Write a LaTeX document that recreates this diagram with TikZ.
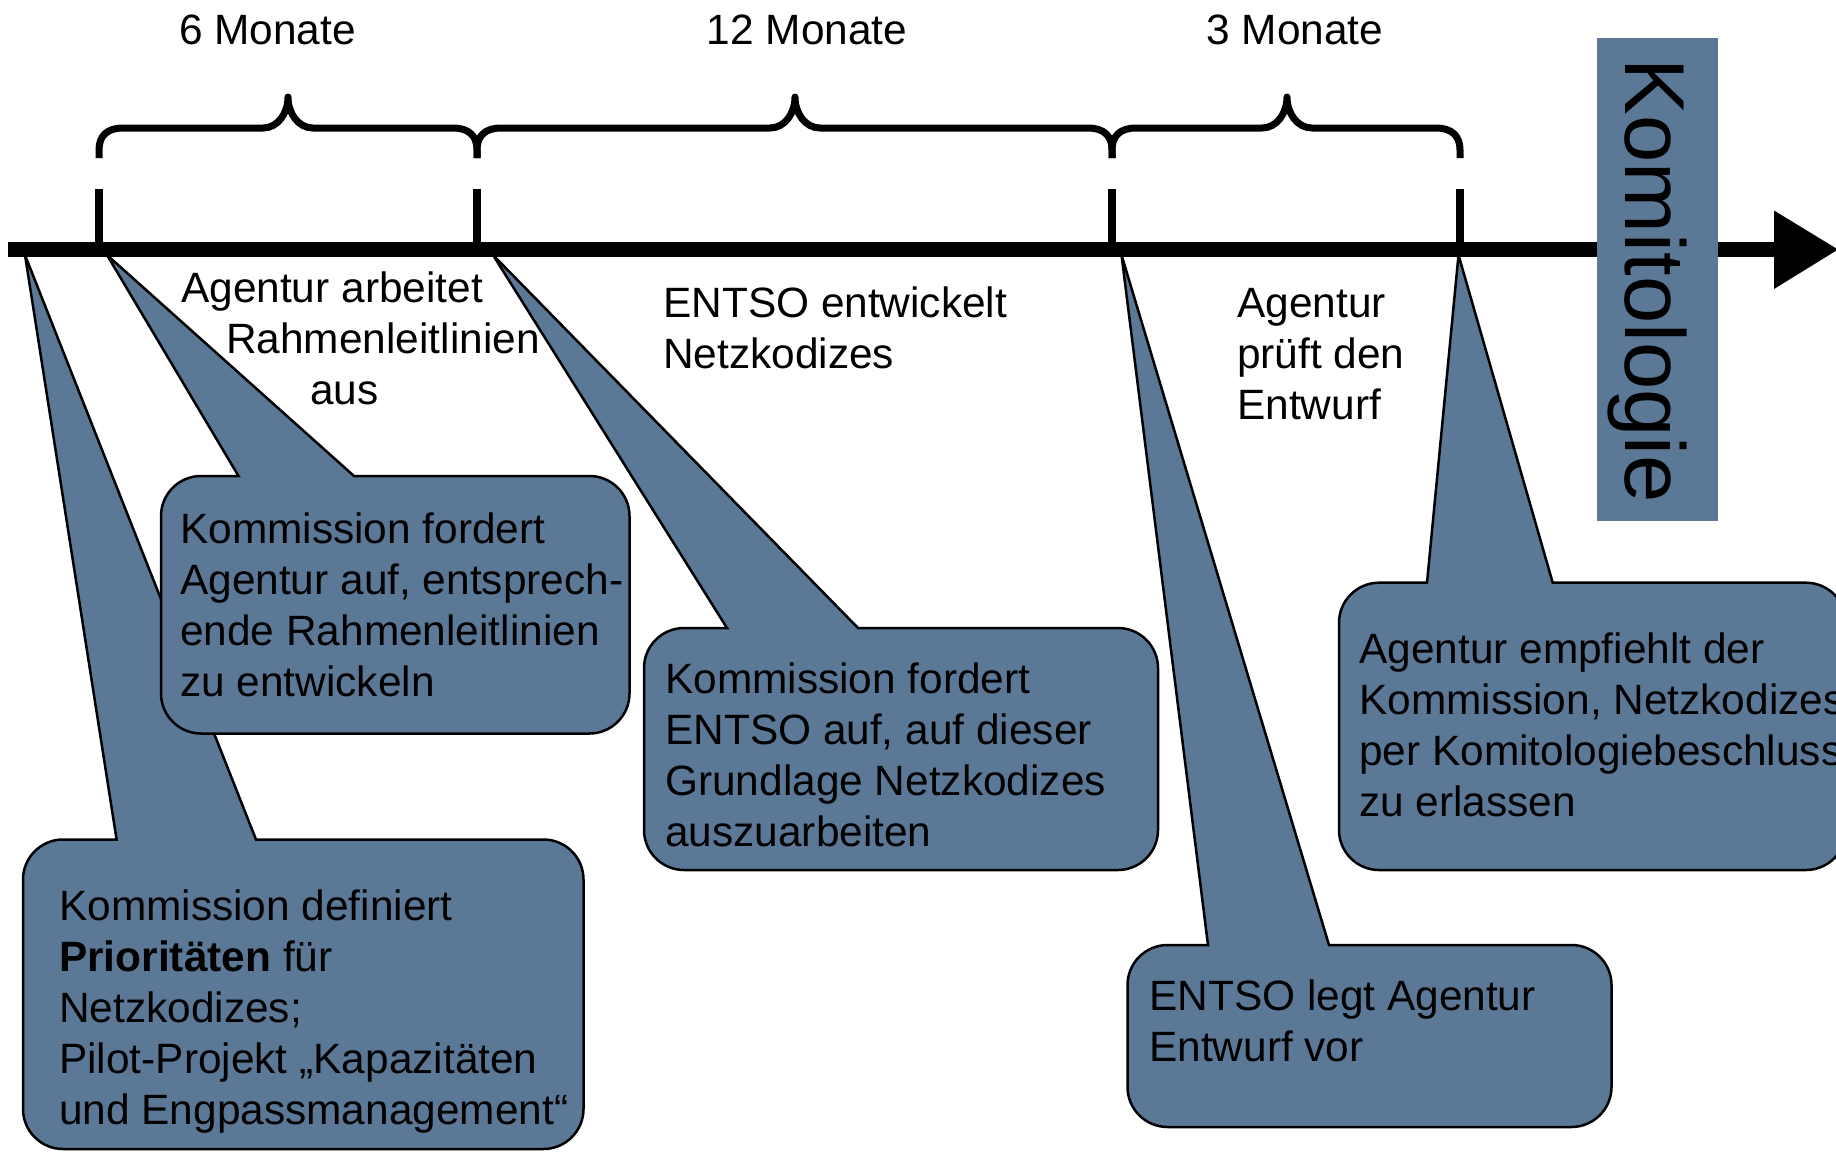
\documentclass[tikz,border=0pt]{standalone}
\usepackage{fontspec}
\setmainfont{Liberation Sans}
\definecolor{callcol}{RGB}{92,120,151}
\newcommand\txtlines[1]{\begin{tabular}[t]{@{}l@{}}#1\end{tabular}}
% #1 L, #2 T, #3 R, #4 B, #5 wedge base left, #6 wedge base right, #7 tip x, #8 tip y
\newcommand\callout[8]{%
  \filldraw[calloutshape] (#5,#2) -- (#7,#8) -- (#6,#2) -- ({#3-40},#2)
    .. controls ({#3-18},#2) and (#3,{#2+18}) .. (#3,{#2+40})
    -- (#3,{#4-40}) .. controls (#3,{#4-18}) and ({#3-18},#4) .. ({#3-40},#4)
    -- ({#1+40},#4) .. controls ({#1+18},#4) and (#1,{#4-18}) .. (#1,{#4-40})
    -- (#1,{#2+40}) .. controls (#1,{#2+18}) and ({#1+18},#2) .. ({#1+40},#2)
    -- cycle;}
% brace: #1 left x, #2 tip x, #3 right x
\newcommand\timebrace[3]{%
  \draw[bracestroke] (#1,158) -- (#1,150) .. controls (#1,136) and ({#1+8},128) .. ({#1+24},128)
    -- ({#2-25},128) .. controls ({#2-10},128) and (#2,113) .. (#2,97)
    .. controls (#2,113) and ({#2+10},128) .. ({#2+25},128)
    -- ({#3-24},128) .. controls ({#3-8},128) and (#3,136) .. (#3,150) -- (#3,158);}
\tikzset{
  calloutshape/.style={fill=callcol, draw=black, line width=2.5pt, line join=miter},
  bracestroke/.style={draw=black, line width=7pt, line join=round},
  tickmark/.style={draw=black, line width=8pt},
  txt/.style={inner sep=0pt, anchor=base west, font=\fontsize{42.4}{51}\selectfont},
  durlabel/.style={inner sep=0pt, anchor=base, font=\fontsize{42.4}{51}\selectfont},
}
\begin{document}
\begin{tikzpicture}[x=1pt,y=-1pt]
\useasboundingbox (0,0) rectangle (1836,1152);
\clip (0,0) rectangle (1836,1152);

% duration labels
\node[durlabel] (m6) at (267.5,44) {6 Monate};
\node[durlabel] (m12) at (807,44) {12 Monate};
\node[durlabel] (m3) at (1295,44) {3 Monate};

% braces
\timebrace{99}{288}{477}
\timebrace{477}{795}{1112}
\timebrace{1112}{1287}{1460}

% ticks
\draw[tickmark] (99,189) -- (99,250);
\draw[tickmark] (477,189) -- (477,250);
\draw[tickmark] (1112,189) -- (1112,250);
\draw[tickmark] (1460,189) -- (1460,250);

% callouts
\callout{23}{839.5}{583.5}{1149}{116.6}{256}{25}{255}
\callout{161}{476}{629.5}{733.5}{238.5}{354}{107}{255}
\callout{644}{628}{1158}{870}{727}{858}{493}{255}
\callout{1127.5}{945}{1611.5}{1127}{1208}{1329}{1121.5}{255}
\callout{1339}{582.7}{1846}{870}{1427}{1552.7}{1458.5}{255}

% timeline
\draw[line width=15pt] (8,249.5) -- (1776,249.5);
\fill (1774,210.5) -- (1838,249.5) -- (1774,289) -- cycle;

% Komitologie
\fill[callcol] (1597,38) rectangle (1718,521);
\node[rotate=-90, anchor=base, inner sep=0pt, font=\fontsize{85}{100}\selectfont] (komi) at (1625,281) {Komitologie};

% labels between ticks
\node[txt] (ph1) at (181,302) {\txtlines{Agentur arbeitet\\\hspace*{45pt}Rahmenleitlinien\\\hspace*{129pt}aus}};
\node[txt] (ph2) at (663,317) {\txtlines{ENTSO entwickelt\\Netzkodizes}};
\node[txt] (ph3) at (1237,317) {\txtlines{Agentur\\prüft den\\Entwurf}};

% callout texts
\node[txt] (c1) at (59,920) {\txtlines{Kommission definiert\\\textbf{Prioritäten} für\\Netzkodizes;\\Pilot-Projekt „Kapazitäten\\und Engpassmanagement“}};
\node[txt] (c2) at (180,543) {\txtlines{Kommission fordert\\Agentur auf, entsprech-\\ende Rahmenleitlinien\\zu entwickeln}};
\node[txt] (c3) at (665,693) {\txtlines{Kommission fordert\\ENTSO auf, auf dieser\\Grundlage Netzkodizes\\auszuarbeiten}};
\node[txt] (c4) at (1149,1010.5) {\txtlines{ENTSO legt Agentur\\Entwurf vor}};
\node[txt] (c5) at (1359,663) {\txtlines{Agentur empfiehlt der\\Kommission, Netzkodizes\\per Komitologiebeschluss\\zu erlassen}};
\end{tikzpicture}
\end{document}
